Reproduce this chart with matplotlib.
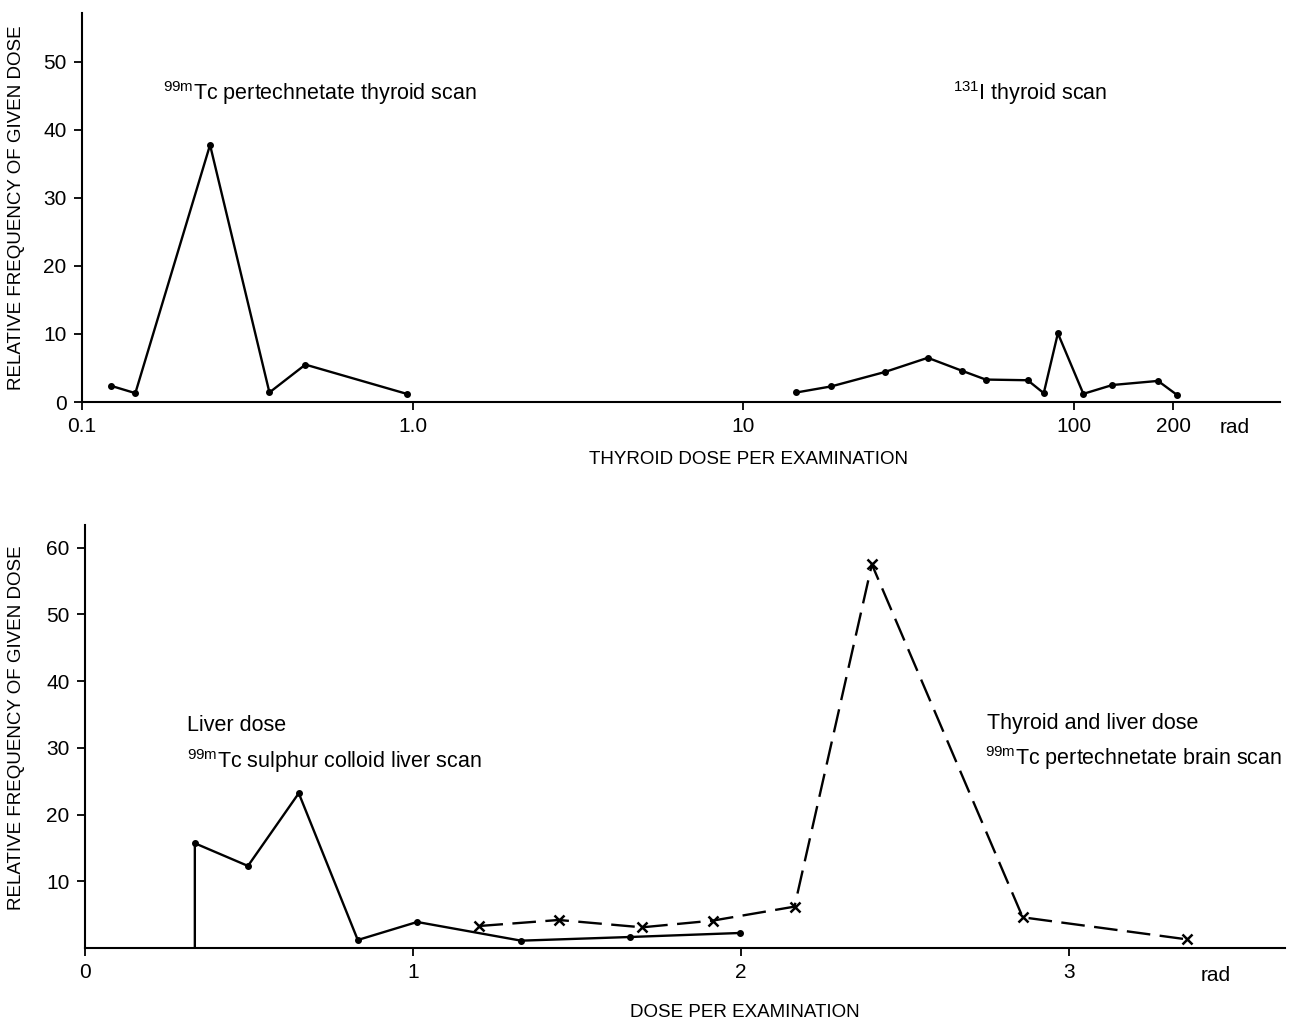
import matplotlib.pyplot as plt
import numpy as np

plt.rcParams['font.family'] = ['Liberation Sans', 'DejaVu Sans']
plt.rcParams['mathtext.fontset'] = 'custom'
plt.rcParams['mathtext.rm'] = 'Liberation Sans'
plt.rcParams['mathtext.default'] = 'regular'

# Top panel: thyroid dose (log axis)
tc_thyroid_x = [0.122, 0.145, 0.244, 0.369, 0.474, 0.96]
tc_thyroid_y = [2.4, 1.3, 37.8, 1.4, 5.5, 1.2]
i131_x = [14.5, 18.5, 26.8, 36.2, 45.9, 54.2, 72.6, 81.2, 89.6, 107, 131, 180, 206]
i131_y = [1.4, 2.3, 4.4, 6.5, 4.6, 3.3, 3.2, 1.3, 10.1, 1.2, 2.5, 3.1, 1.0]
top_xticks = [0.1, 1.0, 10, 100, 200]
top_xlabels = ['0.1', '1.0', '10', '100', '200']
top_yticks = [0, 10, 20, 30, 40, 50]

# Bottom panel: dose per examination (linear axis)
liver_x = [0.335, 0.335, 0.497, 0.652, 0.832, 1.013, 1.33, 1.663, 1.997]
liver_y = [0, 15.7, 12.3, 23.2, 1.2, 3.9, 1.1, 1.65, 2.25]
brain_x = [1.203, 1.445, 1.699, 1.914, 2.164, 2.40, 2.86, 3.36]
brain_y = [3.3, 4.2, 3.1, 4.1, 6.2, 57.5, 4.6, 1.3]
bot_xticks = [0, 1, 2, 3]
bot_yticks = [10, 20, 30, 40, 50, 60]

W, H = 1297, 1024
fig = plt.figure(figsize=(W / 100, H / 100), dpi=100)

def px_axes(left, right, top, bottom):
    return fig.add_axes([left / W, 1 - bottom / H, (right - left) / W, (bottom - top) / H])

def style(ax):
    for s in ['top', 'right']:
        ax.spines[s].set_visible(False)
    ax.spines['left'].set_linewidth(1.5)
    ax.spines['bottom'].set_linewidth(1.5)
    ax.tick_params(direction='out', length=6, width=1.3, pad=5, labelsize=15)
    ax.minorticks_off()

ylab = 'RELATIVE FREQUENCY OF GIVEN DOSE'
ann = 15.5

# ---- top ----
ax1 = px_axes(82, 1280, 13, 402)
ax1.set_xscale('log')
ax1.plot(tc_thyroid_x, tc_thyroid_y, color='black', lw=1.7, marker='o', ms=4)
ax1.plot(i131_x, i131_y, color='black', lw=1.7, marker='o', ms=4)
ax1.set_xlim(0.1, 421)
ax1.set_ylim(0, 57.2)
style(ax1)
ax1.set_xticks(top_xticks)
ax1.set_xticklabels(top_xlabels)
ax1.minorticks_off()
ax1.set_yticks(top_yticks)
ax1.set_ylabel(ylab, fontsize=13.5)
ax1.yaxis.set_label_coords(-0.0476, 0.5)
ax1.set_xlabel('THYROID DOSE PER EXAMINATION', fontsize=13.5)
ax1.xaxis.set_label_coords(0.556, -0.126)
ax1.text(0.962, -0.065, 'rad', transform=ax1.transAxes, ha='center', va='center', fontsize=15)
ax1.text(0.0676, 0.776, r'$^{99m}$Tc pertechnetate thyroid scan', transform=ax1.transAxes,
         fontsize=ann, ha='left', va='baseline')
ax1.text(0.727, 0.776, r'$^{131}$I thyroid scan', transform=ax1.transAxes,
         fontsize=ann, ha='left', va='baseline')

# ---- bottom ----
ax2 = px_axes(85, 1285, 525, 948)
ax2.plot(liver_x, liver_y, color='black', lw=1.7, marker='o', ms=4, markevery=list(range(1, len(liver_x))))
ax2.plot(brain_x, brain_y, color='black', lw=1.7, ls=(0, (10, 4)), marker='x', ms=7.5, mew=1.8)
ax2.set_xlim(0, 3.66)
ax2.set_ylim(0, 63.4)
style(ax2)
ax2.set_xticks(bot_xticks)
ax2.set_yticks(bot_yticks)
ax2.set_ylabel(ylab, fontsize=13.5)
ax2.yaxis.set_label_coords(-0.05, 0.52)
ax2.set_xlabel('DOSE PER EXAMINATION', fontsize=13.5)
ax2.xaxis.set_label_coords(0.55, -0.132)
ax2.text(0.942, -0.065, 'rad', transform=ax2.transAxes, ha='center', va='center', fontsize=15)
ax2.text(0.085, 0.513, 'Liver dose', transform=ax2.transAxes, fontsize=ann, ha='left', va='baseline')
ax2.text(0.085, 0.4255, r'$^{99m}$Tc sulphur colloid liver scan', transform=ax2.transAxes,
         fontsize=ann, ha='left', va='baseline')
ax2.text(0.752, 0.518, 'Thyroid and liver dose', transform=ax2.transAxes, fontsize=ann, ha='left', va='baseline')
ax2.text(0.75, 0.433, r'$^{99m}$Tc pertechnetate brain scan', transform=ax2.transAxes,
         fontsize=ann, ha='left', va='baseline')

fig.savefig('out.png', dpi=100)
